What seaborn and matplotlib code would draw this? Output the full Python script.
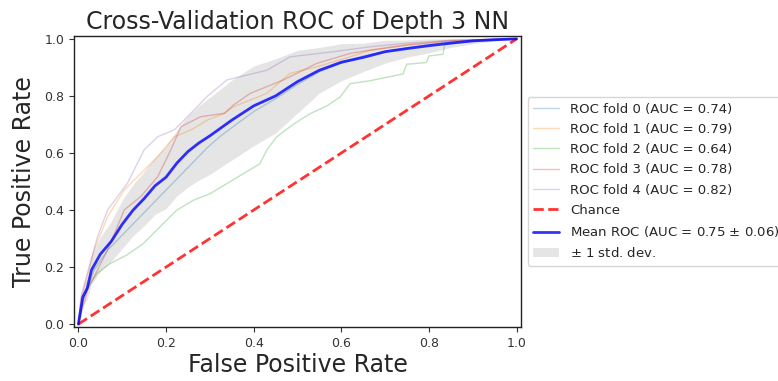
import numpy as np
import pandas as pd
import matplotlib
matplotlib.use("Agg")
import matplotlib.pyplot as plt
import seaborn as sns

# Per-fold ROC curves (false positive rate, true positive rate)
fold_fpr = [
    [0, .01, .036, .067, .105, .143, .181, .219, .257, .295, .325, .36, .40, .45, .50, .55, .60, .65, .70, .75, .80, .85, .90, 1.0],
    [0, .006, .036, .067, .105, .143, .181, .219, .257, .295, .333, .354, .43, .483, .544, .62, .665, .75, .85, 1.0],
    [0, .011, .027, .042, .072, .110, .148, .186, .224, .262, .300, .338, .376, .414, .43, .452, .49, .528, .567, .597,
     .620, .665, .741, .749, .794, .80, .832, .836, .87, 1.0],
    [0, .021, .067, .105, .143, .181, .211, .234, .279, .333, .354, .392, .468, .544, .62, .665, .75, .85, 1.0],
    [0, .006, .044, .067, .112, .15, .181, .219, .249, .295, .339, .43, .483, .582, .665, .75, .85, 1.0],
]
fold_tpr = [
    [0, .08, .19, .26, .32, .38, .44, .50, .56, .62, .66, .70, .745, .79, .84, .885, .915, .94, .955, .968, .98, .99, .995, 1.0],
    [0, .086, .26, .378, .471, .529, .587, .657, .681, .716, .739, .762, .809, .879, .902, .937, .96, .98, .995, 1.0],
    [0, .096, .142, .177, .212, .242, .282, .341, .399, .434, .457, .492, .527, .562, .61, .656, .70, .737, .765, .796,
     .843, .853, .877, .911, .917, .94, .946, .98, .987, 1.0],
    [0, .121, .261, .401, .448, .517, .611, .692, .727, .739, .768, .809, .856, .914, .949, .96, .978, .993, 1.0],
    [0, .098, .308, .401, .494, .611, .657, .681, .727, .80, .856, .89, .937, .955, .972, .985, .995, 1.0],
]
fold_auc = [0.74, 0.79, 0.64, 0.78, 0.82]

# Mean ROC and its standard deviation across folds
mean_fpr = [0, .01, .02, .03, .05, .075, .10, .125, .15, .175, .20, .225, .25, .275, .30, .35, .40, .45, .50,
            .55, .60, .65, .70, .75, .80, .85, .90, .95, 1.0]
mean_tpr = [0, .095, .125, .19, .245, .29, .35, .40, .44, .485, .515, .565, .605, .635, .66, .715, .765, .80, .85,
            .89, .918, .935, .955, .966, .976, .985, .993, .997, 1.0]
std_tpr = [0, .03, .04, .05, .06, .07, .085, .09, .095, .10, .11, .115, .125, .13, .135, .14, .14, .13, .11,
           .08, .065, .05, .04, .03, .025, .015, .01, .005, 0]
mean_auc, std_auc = 0.75, 0.06

sns.set_theme(style="ticks", color_codes=False)
plt.rcParams["font.family"] = ["DejaVu Sans"]

fig = plt.figure(figsize=(7.78, 3.81), dpi=100)
ax = fig.add_axes([74 / 778, 1 - 327 / 381, 447 / 778, 291 / 381])

palette = sns.color_palette("tab10")
for i in range(len(fold_fpr)):
    df = pd.DataFrame({"fpr": fold_fpr[i], "tpr": fold_tpr[i]})
    sns.lineplot(data=df, x="fpr", y="tpr", estimator=None, sort=False, ax=ax,
                 color=palette[i], lw=1, alpha=0.3,
                 label=f"ROC fold {i} (AUC = {fold_auc[i]:.2f})")

ax.plot([0, 1], [0, 1], linestyle="--", lw=2, color="#ff0000", alpha=0.8, label="Chance")

mean_df = pd.DataFrame({"fpr": mean_fpr, "tpr": mean_tpr})
sns.lineplot(data=mean_df, x="fpr", y="tpr", estimator=None, sort=False, ax=ax,
             color="#0000ff", lw=2, alpha=0.8,
             label=f"Mean ROC (AUC = {mean_auc:.2f} $\\pm$ {std_auc:.2f})")

upper = np.minimum(np.array(mean_tpr) + np.array(std_tpr), 1)
lower = np.maximum(np.array(mean_tpr) - np.array(std_tpr), 0)
ax.fill_between(mean_fpr, lower, upper, color="grey", alpha=0.2, lw=0,
                label="$\\pm$ 1 std. dev.")

ax.set_xlim(-0.01, 1.01)
ax.set_ylim(-0.01, 1.01)
ax.set_xticks([0, .2, .4, .6, .8, 1.0])
ax.set_yticks([0, .2, .4, .6, .8, 1.0])
ax.tick_params(labelsize=9, colors="#333333", width=0.8, length=3.5)
ax.set_xlabel("False Positive Rate", fontsize=17, labelpad=2)
ax.set_ylabel("True Positive Rate", fontsize=17, labelpad=6)
ax.set_title("Cross-Validation ROC of Depth 3 NN", fontsize=17, pad=5)
for s in ax.spines.values():
    s.set_color("#222222")
    s.set_linewidth(1.0)

ax.legend(loc="center left", bbox_to_anchor=(1, 0.5), fontsize=9.5, labelspacing=0.55)

fig.savefig("out.png", dpi=100)
